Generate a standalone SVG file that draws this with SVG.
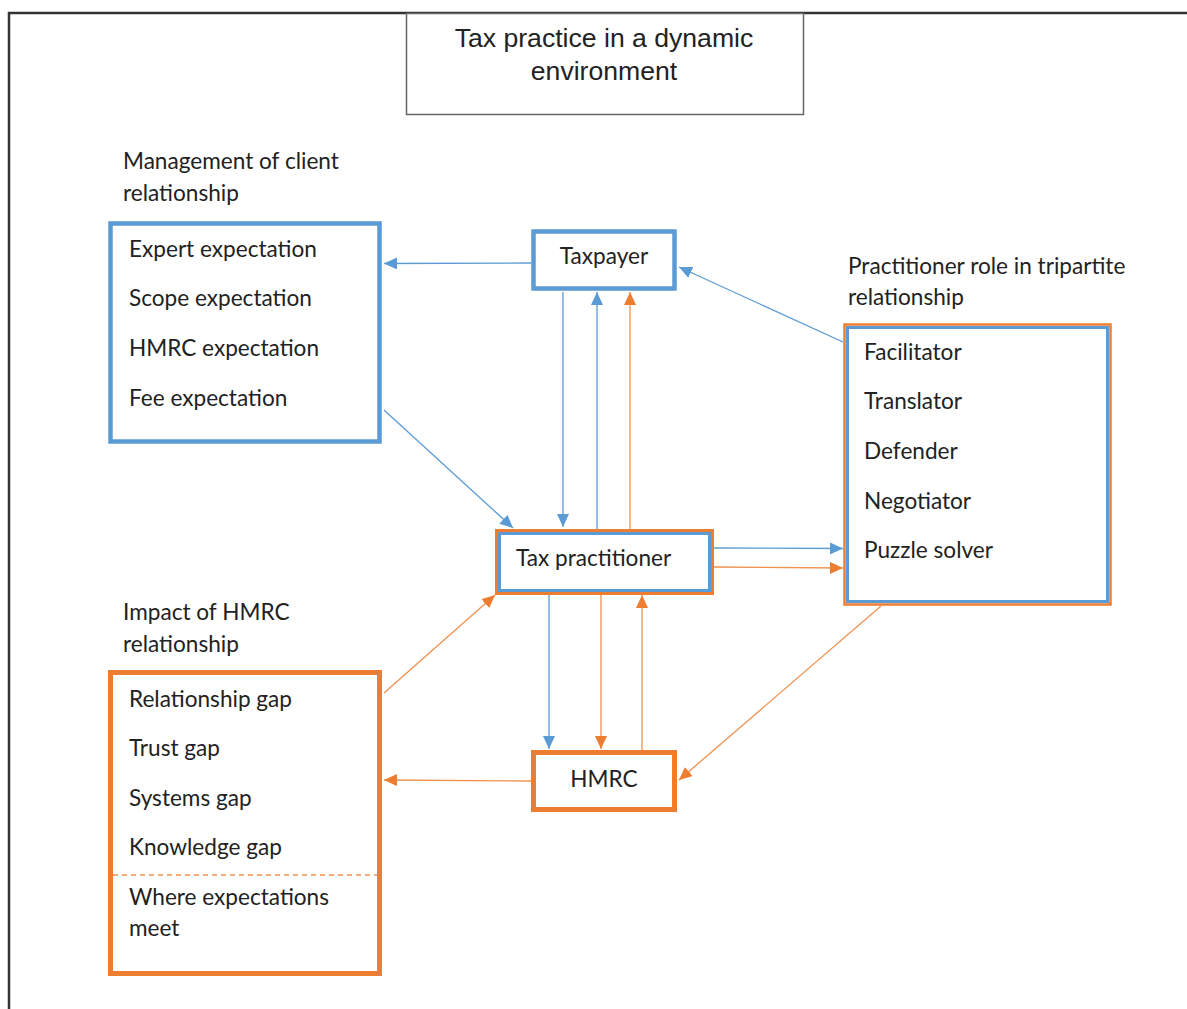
<svg xmlns="http://www.w3.org/2000/svg" width="1187" height="1009" viewBox="0 0 1187 1009">
<style>
.t{font-family:"Lato","Open Sans","Liberation Sans",sans-serif;font-size:22.6px;fill:#222}
.title{font-family:"Liberation Sans",Arial,sans-serif;font-size:26.6px;fill:#222;text-anchor:middle}
.b{stroke:#5B9BD5;fill:none;stroke-width:1.3}
.o{stroke:#F0914F;fill:none;stroke-width:1.3}
</style>
<defs>
<marker id="ab" markerUnits="userSpaceOnUse" markerWidth="14" markerHeight="12" refX="13" refY="6" orient="auto"><path d="M0,0 L13,6 L0,12 Z" fill="#5B9BD5"/></marker>
<marker id="ao" markerUnits="userSpaceOnUse" markerWidth="14" markerHeight="12" refX="13" refY="6" orient="auto"><path d="M0,0 L13,6 L0,12 Z" fill="#ED7D31"/></marker>
</defs>
<rect width="1187" height="1009" fill="#fff"/>
<path d="M9,1009 V13 H1187" fill="none" stroke="#333" stroke-width="2.5"/>

<g id="title">
<rect x="406.5" y="13.5" width="397" height="101" fill="#fff" stroke="#666" stroke-width="1.5"/>
<text class="title" x="604" y="47">Tax practice in a dynamic</text>
<text class="title" x="604" y="80">environment</text>
</g>

<g id="connectors">
<line class="b" x1="531" y1="263" x2="384" y2="263.5" marker-end="url(#ab)"/>
<line class="b" x1="563" y1="292" x2="563" y2="527" marker-end="url(#ab)"/>
<line class="b" x1="597" y1="529" x2="597" y2="292" marker-end="url(#ab)"/>
<line class="o" x1="630" y1="529" x2="630" y2="292" marker-end="url(#ao)"/>
<line class="b" x1="843" y1="342" x2="679" y2="267" marker-end="url(#ab)"/>
<line class="b" x1="384" y1="410" x2="513" y2="528" marker-end="url(#ab)"/>
<line class="b" x1="714" y1="548" x2="843" y2="548.5" marker-end="url(#ab)"/>
<line class="o" x1="714" y1="567" x2="843" y2="568" marker-end="url(#ao)"/>
<line class="b" x1="549" y1="595" x2="549" y2="749" marker-end="url(#ab)"/>
<line class="o" x1="601" y1="595" x2="601" y2="749" marker-end="url(#ao)"/>
<line class="o" x1="642" y1="750" x2="642" y2="595" marker-end="url(#ao)"/>
<line class="o" x1="384" y1="693" x2="495" y2="595" marker-end="url(#ao)"/>
<line class="o" x1="881" y1="606" x2="679" y2="780" marker-end="url(#ao)"/>
<line class="o" x1="531" y1="781" x2="384" y2="780" marker-end="url(#ao)"/>
</g>

<g id="client-relationship">
<text class="t" x="123" y="169">Management of client</text>
<text class="t" x="123" y="201">relationship</text>
<rect x="110.5" y="223.5" width="269" height="218" fill="#fff" stroke="#5B9BD5" stroke-width="4.5"/>
<text class="t" x="129" y="257">Expert expectation</text>
<text class="t" x="129" y="306">Scope expectation</text>
<text class="t" x="129" y="356">HMRC expectation</text>
<text class="t" x="129" y="406">Fee expectation</text>
</g>

<g id="taxpayer">
<rect x="533.5" y="231.5" width="141" height="57" fill="#fff" stroke="#5B9BD5" stroke-width="4.5"/>
<text class="t" x="604" y="264" text-anchor="middle">Taxpayer</text>
</g>

<g id="tripartite">
<text class="t" x="848" y="274">Practitioner role in tripartite</text>
<text class="t" x="848" y="305">relationship</text>
<rect x="844.5" y="324.5" width="266" height="280" fill="#fff" stroke="#ED7D31" stroke-width="2.5"/>
<rect x="847.5" y="327.5" width="260" height="274" fill="none" stroke="#5B9BD5" stroke-width="3"/>
<text class="t" x="864" y="360">Facilitator</text>
<text class="t" x="864" y="409">Translator</text>
<text class="t" x="864" y="459">Defender</text>
<text class="t" x="864" y="509">Negotiator</text>
<text class="t" x="864" y="558">Puzzle solver</text>
</g>

<g id="tax-practitioner">
<rect x="496.5" y="530.5" width="216" height="63" fill="#fff" stroke="#ED7D31" stroke-width="3"/>
<rect x="499.5" y="533.5" width="210" height="57" fill="none" stroke="#5B9BD5" stroke-width="3"/>
<text class="t" x="516" y="566">Tax practitioner</text>
</g>

<g id="hmrc-relationship">
<text class="t" x="123" y="620">Impact of HMRC</text>
<text class="t" x="123" y="652">relationship</text>
<rect x="110.5" y="672.5" width="269" height="301" fill="#fff" stroke="#ED7D31" stroke-width="5"/>
<text class="t" x="129" y="707">Relationship gap</text>
<text class="t" x="129" y="756">Trust gap</text>
<text class="t" x="129" y="806">Systems gap</text>
<text class="t" x="129" y="855">Knowledge gap</text>
<line x1="113" y1="875" x2="377" y2="875" stroke="#F0914F" stroke-width="1.3" stroke-dasharray="5,4"/>
<text class="t" x="129" y="905">Where expectations</text>
<text class="t" x="129" y="936">meet</text>
</g>

<g id="hmrc">
<rect x="533.5" y="752.5" width="141" height="57" fill="#fff" stroke="#ED7D31" stroke-width="5"/>
<text class="t" x="604" y="787" text-anchor="middle">HMRC</text>
</g>
</svg>
